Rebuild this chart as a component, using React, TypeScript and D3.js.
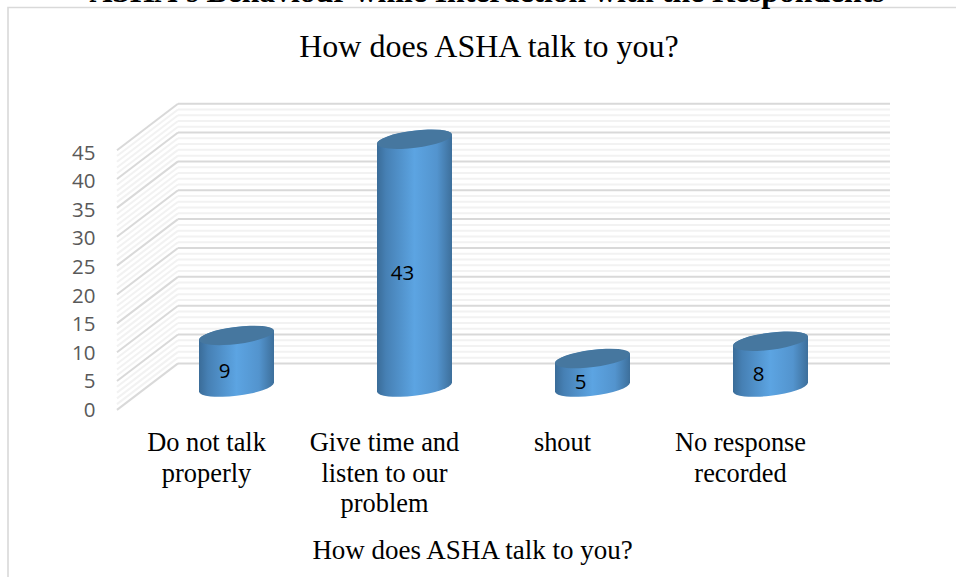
import React from "react";
import * as d3 from "d3";

const categories = [
  ["Do not talk", "properly"],
  ["Give time and", "listen to our", "problem"],
  ["shout"],
  ["No response", "recorded"],
];
const values = [9, 43, 5, 8];
const majorTicks = [0, 5, 10, 15, 20, 25, 30, 35, 40, 45];
const minorTicks = d3.range(0, 46);
const chartTitle = "How does ASHA talk to you?";
const axisTitle = "How does ASHA talk to you?";
const pageHeading = "ASHA's Behaviour while Interaction with the Respondents";

const W = 956;
const H = 577;
const serif = "'Liberation Serif', serif";
const sans = "'Open Sans', sans-serif";

// Depth of the 3D floor: the back wall sits up and to the right of the front edge.
const depthX = 61;
const depthY = 46.5;
const y = d3.scaleLinear().domain([0, 45]).range([363.4, 103.7]);
// Baselines of the value labels, which run along the front edge of the side wall.
const tickLabelY = d3.scaleLinear().domain([0, 45]).range([417, 159.5]);
const x = d3.scaleBand<number>().domain([0, 1, 2, 3]).range([147.5, 859.5]);
const wallLeft = 178;
const wallRight = 890;

// Tilted ellipse that caps each cylinder, and the points where its sides touch it.
const rx = 37.8;
const ry = 8.6;
const tilt = -7.2;
const tangentX = 37.5;
const tangentY = 4.5;

function cylinderSide(cx: number, topY: number, baseY: number) {
  const lx = cx - tangentX;
  const rxp = cx + tangentX;
  return (
    `M${lx},${topY + tangentY}L${lx},${baseY + tangentY}` +
    `A${rx},${ry} ${tilt} 0 0 ${rxp},${baseY - tangentY}` +
    `L${rxp},${topY - tangentY}` +
    `A${rx},${ry} ${tilt} 0 0 ${lx},${topY + tangentY}Z`
  );
}

export default function App() {
  const midY = depthY / 2 + 0.7;
  return (
    <svg
      width={W}
      height={H}
      viewBox={`0 0 ${W} ${H}`}
      style={{ position: "absolute", left: 0, top: 0, background: "#fff" }}
    >
      <defs>
        <linearGradient id="cyl" x1="0" x2="1" y1="0" y2="0">
          <stop offset="0" stopColor="#3A6C98" />
          <stop offset="0.12" stopColor="#4680B4" />
          <stop offset="0.5" stopColor="#5CA4E2" />
          <stop offset="0.8" stopColor="#5394CE" />
          <stop offset="1" stopColor="#3D6F9B" />
        </linearGradient>
      </defs>
      <path d="M8,577V7.5H956" fill="none" stroke="#d9d9d9" strokeWidth={1.6} />
      <text x={487} y={2} textAnchor="middle" fontFamily={serif} fontWeight="bold" fontSize={31.7}>
        {pageHeading}
      </text>
      <text x={489} y={57} textAnchor="middle" fontFamily={serif} fontSize={32}>
        {chartTitle}
      </text>

      {minorTicks.map((t) => {
        const major = t % 5 === 0;
        const yy = y(t);
        return (
          <g key={t} stroke={major ? "#d9d9d9" : "#f2f2f2"} strokeWidth={2} fill="none">
            <line x1={wallLeft} x2={wallRight} y1={yy} y2={yy} />
            <line x1={wallLeft} x2={wallLeft - depthX} y1={yy} y2={yy + depthY} />
          </g>
        );
      })}

      {majorTicks.map((t) => (
        <text
          key={t}
          x={95.5}
          y={tickLabelY(t)}
          textAnchor="end"
          fontFamily={sans}
          fontSize={20.5}
          fill="#595959"
        >
          {t}
        </text>
      ))}

      {values.map((v, i) => {
        const cx = x(i)! + x.bandwidth() / 2;
        const baseY = y(0) + midY;
        const topY = y(v) + midY;
        return (
          <g key={i}>
            <path d={cylinderSide(cx, topY, baseY)} fill="url(#cyl)" />
            <ellipse
              cx={cx}
              cy={topY}
              rx={rx}
              ry={ry}
              transform={`rotate(${tilt} ${cx} ${topY})`}
              fill="#46779F"
            />
            <text
              x={cx - 12}
              y={(topY + baseY) / 2 + 16.5}
              textAnchor="middle"
              fontFamily={sans}
              fontSize={20.5}
              fill="#000"
            >
              {v}
            </text>
          </g>
        );
      })}

      {categories.map((lines, i) => (
        <text key={i} textAnchor="middle" fontFamily={serif} fontSize={26.4} fill="#000">
          {lines.map((l, j) => (
            <tspan key={j} x={x(i)! + x.bandwidth() / 2 - 30} y={451 + j * 30.5}>
              {l}
            </tspan>
          ))}
        </text>
      ))}

      <text x={472.5} y={558.5} textAnchor="middle" fontFamily={serif} fontSize={27}>
        {axisTitle}
      </text>
    </svg>
  );
}
